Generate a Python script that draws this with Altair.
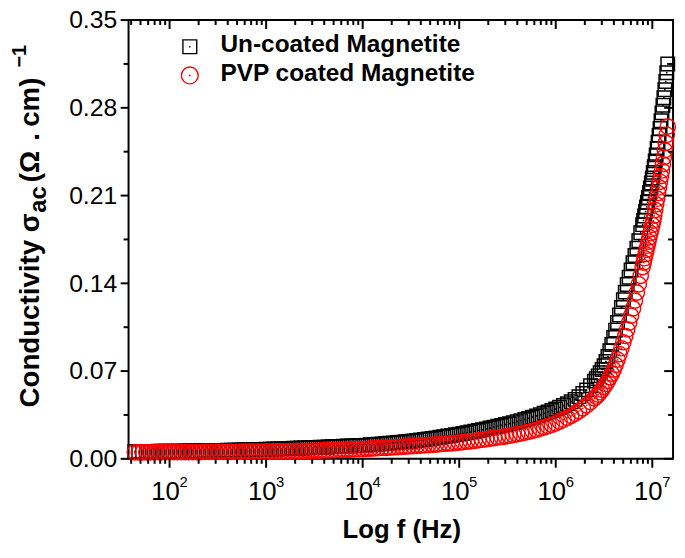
import altair as alt
import pandas as pd

# ---------------- data ----------------
LOG_F = [
    1.64, 1.68, 1.72, 1.76, 1.80, 1.84, 1.88, 1.92, 1.96,
    2.00, 2.04, 2.08, 2.12, 2.16, 2.20, 2.24, 2.28, 2.32, 2.36, 2.40, 2.44, 2.48,
    2.52, 2.56, 2.60, 2.64, 2.68, 2.72, 2.76, 2.80, 2.84, 2.88, 2.92, 2.96,
    3.00, 3.04, 3.08, 3.12, 3.16, 3.20, 3.24, 3.28, 3.32, 3.36, 3.40, 3.44, 3.48,
    3.52, 3.56, 3.60, 3.64, 3.68, 3.72, 3.76, 3.80, 3.84, 3.88, 3.92, 3.96,
    4.00, 4.04, 4.08, 4.12, 4.16, 4.20, 4.24, 4.28, 4.32, 4.36, 4.40, 4.44, 4.48,
    4.52, 4.56, 4.60, 4.64, 4.68, 4.72, 4.76, 4.80, 4.84, 4.88, 4.92, 4.96,
    5.00, 5.04, 5.08, 5.12, 5.16, 5.20, 5.24, 5.28, 5.32, 5.36, 5.40, 5.44, 5.48,
    5.52, 5.56, 5.60, 5.64, 5.68, 5.72, 5.76, 5.80, 5.84, 5.88, 5.92, 5.96,
    6.00, 6.04, 6.08, 6.12, 6.16, 6.20, 6.24, 6.28, 6.32, 6.36, 6.40,
    6.42, 6.44, 6.46, 6.48, 6.50, 6.52, 6.54, 6.56, 6.58, 6.60, 6.62, 6.64, 6.66,
    6.68, 6.70, 6.72, 6.74, 6.76, 6.78, 6.80, 6.82, 6.84, 6.86, 6.88, 6.90,
    6.91, 6.92, 6.93, 6.94, 6.95, 6.96, 6.97, 6.98, 6.99, 7.00, 7.01, 7.02, 7.03,
    7.04, 7.05, 7.06, 7.07, 7.08, 7.09, 7.10, 7.11, 7.12, 7.13, 7.14, 7.15, 7.16,
]

UNCOATED = [
    .0058, .0058, .0059, .0059, .0059, .0059, .0060, .0060, .0060,
    .0060, .0061, .0061, .0061, .0062, .0062, .0063, .0063, .0064, .0064, .0065, .0065, .0066,
    .0066, .0067, .0068, .0069, .0069, .0070, .0071, .0072, .0073, .0074, .0075, .0075,
    .0076, .0077, .0078, .0079, .0080, .0081, .0082, .0084, .0085, .0086, .0087, .0088, .0089,
    .0091, .0092, .0093, .0095, .0096, .0098, .0099, .0100, .0102, .0103, .0104, .0106,
    .0107, .0109, .0112, .0114, .0117, .0119, .0122, .0124, .0127, .0130, .0133, .0136, .0139,
    .0142, .0146, .0150, .0154, .0158, .0163, .0167, .0172, .0177, .0182, .0187, .0192,
    .0197, .0203, .0208, .0214, .0220, .0226, .0232, .0239, .0246, .0253, .0260, .0267, .0274,
    .0281, .0289, .0297, .0305, .0314, .0323, .0332, .0342, .0352, .0363, .0374, .0386,
    .0398, .0411, .0425, .0440, .0456, .0474, .0496, .0521, .0550, .0583, .0620,
    .0640, .0662, .0686, .0712, .0742, .0777, .0817, .0862, .0912, .0968, .1027, .1087, .1147,
    .1208, .1270, .1330, .1390, .1448, .1506, .1564, .1622, .1680, .1740, .1803, .1868,
    .1902, .1937, .1973, .2010, .2047, .2085, .2122, .2160, .2200, .2240, .2285, .2330, .2377,
    .2425, .2475, .2525, .2580, .2635, .2697, .2760, .2820, .2880, .2945, .3010, .3080, .3150,
]

PVP_COATED = [
    .0052, .0052, .0052, .0052, .0052, .0053, .0053, .0053, .0053,
    .0053, .0053, .0053, .0054, .0054, .0054, .0054, .0054, .0054, .0055, .0055, .0055, .0055,
    .0055, .0055, .0056, .0056, .0056, .0056, .0057, .0057, .0057, .0057, .0058, .0058,
    .0058, .0058, .0059, .0059, .0060, .0060, .0061, .0061, .0062, .0062, .0063, .0063, .0064,
    .0065, .0066, .0067, .0068, .0069, .0070, .0071, .0072, .0073, .0074, .0075, .0077,
    .0078, .0080, .0081, .0083, .0085, .0087, .0088, .0090, .0092, .0094, .0096, .0097, .0099,
    .0101, .0103, .0105, .0107, .0110, .0112, .0114, .0117, .0119, .0122, .0124, .0127,
    .0130, .0133, .0137, .0140, .0144, .0148, .0152, .0156, .0161, .0165, .0170, .0174, .0179,
    .0184, .0190, .0196, .0202, .0209, .0216, .0223, .0232, .0241, .0251, .0261, .0272,
    .0284, .0298, .0312, .0327, .0343, .0360, .0381, .0403, .0427, .0453, .0482,
    .0497, .0513, .0531, .0551, .0574, .0597, .0622, .0650, .0680, .0712, .0750, .0792, .0836,
    .0882, .0930, .0980, .1032, .1086, .1142, .1200, .1262, .1326, .1392, .1460, .1530,
    .1565, .1600, .1633, .1667, .1700, .1733, .1767, .1800, .1833, .1866, .1900, .1940, .1985,
    .2030, .2075, .2120, .2165, .2210, .2255, .2300, .2350, .2405, .2460, .2520, .2585, .2650,
]

SERIES_NAMES = ["Un-coated Magnetite", "PVP coated Magnetite"]
X_EXPONENTS = [2, 3, 4, 5, 6, 7]
Y_MAJOR = [0.0, 0.07, 0.14, 0.21, 0.28, 0.35]
Y_MINOR = [0.035, 0.105, 0.175, 0.245, 0.315]
X_DOMAIN = [37.6, 1.64e7]
Y_DOMAIN = [0.0, 0.35]

assert len(LOG_F) == len(UNCOATED) == len(PVP_COATED), (len(LOG_F), len(UNCOATED), len(PVP_COATED))

# ---------------- layout / style ----------------
W, H = 551, 444
FONT = "Liberation Sans"
BLACK = "#000000"
RED = "#ff0000"

freq = [10 ** v for v in LOG_F]
df_u = pd.DataFrame({"f": freq, "v": UNCOATED})
df_p = pd.DataFrame({"f": freq, "v": PVP_COATED})

xscale = alt.Scale(type="log", domain=X_DOMAIN, nice=False)
yscale = alt.Scale(domain=Y_DOMAIN, nice=False, zero=False)

X = alt.X("f:Q", scale=xscale, axis=None)
Y = alt.Y(
    "v:Q",
    scale=yscale,
    axis=alt.Axis(
        values=Y_MAJOR, format=".2f", labelFont=FONT, labelFontSize=25,
        labelColor=BLACK, labelPadding=12, ticks=False, domain=False,
        grid=False, title=None,
    ),
)

one = pd.DataFrame({"k": [0]})

# data markers
sq = alt.Chart(df_u).mark_point(shape="square", filled=False, size=185,
                                color=BLACK, strokeWidth=1.5, opacity=1).encode(x=X, y=Y)
sq_dot = alt.Chart(df_u).mark_point(shape="circle", filled=True, size=3,
                                    color=BLACK, opacity=1).encode(x=X, y=Y)
ci = alt.Chart(df_p).mark_point(shape="circle", filled=False, size=240,
                                color=RED, strokeWidth=1.4, opacity=1).encode(x=X, y=Y)
ci_dot = alt.Chart(df_p).mark_point(shape="circle", filled=True, size=3,
                                    color=RED, opacity=1).encode(x=X, y=Y)

# ticks (drawn through the scales)
major_x = [10 ** e for e in X_EXPONENTS]
minor_x = [m * 10 ** e for e in range(1, 8) for m in range(2, 10)
           if X_DOMAIN[0] <= m * 10 ** e <= X_DOMAIN[1]]
df_mx = pd.DataFrame({"f": major_x})
df_nx = pd.DataFrame({"f": minor_x})
df_my = pd.DataFrame({"v": Y_MAJOR})
df_ny = pd.DataFrame({"v": Y_MINOR})


def rule(df, **enc):
    return alt.Chart(df).mark_rule(color=BLACK, strokeWidth=2).encode(**enc)


ticks = [
    rule(df_mx, x=X, y=alt.value(H), y2=alt.value(H + 9)),
    rule(df_nx, x=X, y=alt.value(H), y2=alt.value(H + 5)),
    rule(df_mx, x=X, y=alt.value(0), y2=alt.value(9)),
    rule(df_nx, x=X, y=alt.value(0), y2=alt.value(5)),
    rule(df_my, y=Y, x=alt.value(0), x2=alt.value(-8)),
    rule(df_ny, y=Y, x=alt.value(0), x2=alt.value(-5)),
    rule(df_my, y=Y, x=alt.value(W), x2=alt.value(W - 9)),
    rule(df_ny, y=Y, x=alt.value(W), x2=alt.value(W - 5)),
]

# x tick labels 10^n
df_lab = pd.DataFrame({"f": major_x, "base": ["10"] * len(major_x),
                       "exp": [str(e) for e in X_EXPONENTS]})
lab_base = alt.Chart(df_lab).mark_text(font=FONT, fontSize=26, align="center",
                                       baseline="alphabetic", dx=-4, color=BLACK
                                       ).encode(x=X, y=alt.value(H + 42), text="base:N")
lab_exp = alt.Chart(df_lab).mark_text(font=FONT, fontSize=15, align="left",
                                      baseline="alphabetic", dx=10, color=BLACK
                                      ).encode(x=X, y=alt.value(H + 28), text="exp:N")


def label(txt, x, y, size, angle=0, bold=True, align="left"):
    kw = dict(font=FONT, fontSize=size, align=align, baseline="alphabetic",
              color=BLACK, text=txt, fontWeight="bold" if bold else "normal")
    if angle:
        kw["angle"] = angle
    return alt.Chart(one).mark_text(**kw).encode(x=alt.value(x), y=alt.value(y))


x_title = label("Log f (Hz)", W / 2 + 1, 524, 26, align="center")
y_title = [
    label("Conductivity σ", -91, 392, 28, angle=270),
    label("ac", -84, 195, 24, angle=270),
    label("(Ω", -91, 164, 28, angle=270),
    label(".", -91, 122, 28, angle=270),
    label("cm)", -91, 108, 28, angle=270),
    label("−1", -104, 48, 20, angle=270),
]

# legend
leg_sq = alt.Chart(one).mark_point(shape="square", filled=False, size=196, color=BLACK,
                                   strokeWidth=1.4, opacity=1
                                   ).encode(x=alt.value(62), y=alt.value(27))
leg_sq_dot = alt.Chart(one).mark_point(shape="circle", filled=True, size=3, color=BLACK,
                                       opacity=1).encode(x=alt.value(62), y=alt.value(27))
leg_ci = alt.Chart(one).mark_point(shape="circle", filled=False, size=290, color=RED,
                                   strokeWidth=1.4, opacity=1
                                   ).encode(x=alt.value(62), y=alt.value(56))
leg_ci_dot = alt.Chart(one).mark_point(shape="circle", filled=True, size=3, color=RED,
                                       opacity=1).encode(x=alt.value(62), y=alt.value(56))
leg_t1 = label(SERIES_NAMES[0], 93, 32, 24.7)
leg_t2 = label(SERIES_NAMES[1], 93, 62, 24.7)

chart = alt.layer(
    sq, sq_dot, ci, ci_dot, *ticks, lab_base, lab_exp, x_title, *y_title,
    leg_sq, leg_sq_dot, leg_ci, leg_ci_dot, leg_t1, leg_t2,
).properties(
    width=W, height=H,
    autosize=alt.AutoSizeParams(type="none"),
    padding={"left": 122, "top": 9, "right": 4, "bottom": 86},
).configure_view(
    stroke=BLACK, strokeWidth=2
)

chart.save("out.html", embed_options={"renderer": "svg", "actions": False})
